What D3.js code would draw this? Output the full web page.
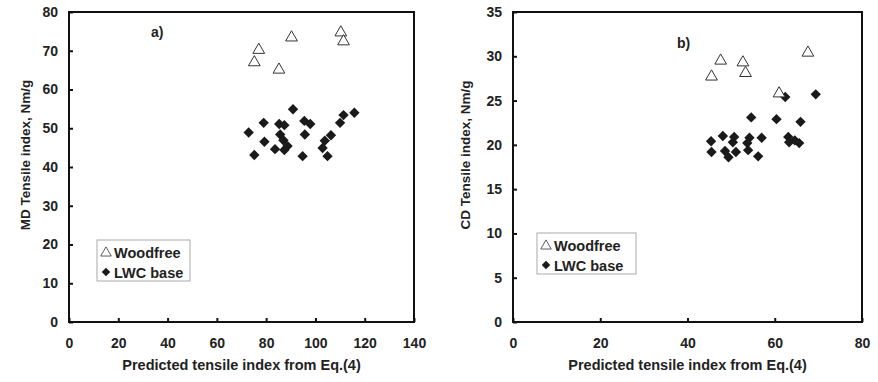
<!DOCTYPE html>
<html>
<head>
<meta charset="utf-8">
<script src="https://cdn.jsdelivr.net/npm/d3@7"></script>
<style>
  body { margin: 0; background: #fff; }
  svg { display: block; font-family: "Liberation Sans", Arial, sans-serif; font-weight: bold; }
</style>
</head>
<body>
<svg id="chart" width="878" height="382"></svg>
<script>
// ---- data ----
// a) MD tensile index vs predicted
const mdWoodfree = [[77.0, 70.2], [75.2, 67.0], [90.3, 73.4], [85.2, 65.1], [110.3, 74.7], [111.4, 72.4]];
const mdLwc = [
  [90.9, 54.9], [79.0, 51.4], [72.9, 48.9], [85.3, 51.1], [87.4, 50.8], [85.7, 48.4],
  [87.0, 46.9], [79.3, 46.5], [75.2, 43.1], [83.6, 44.6], [87.4, 44.4], [88.7, 45.4],
  [95.5, 51.9], [97.9, 51.1], [95.7, 48.4], [94.8, 42.8], [106.3, 48.2], [103.8, 46.8],
  [102.9, 44.9], [104.9, 42.8], [111.4, 53.4], [110.0, 51.4], [115.8, 54.0]
];
// b) CD tensile index vs predicted
const cdWoodfree = [[47.6, 29.5], [45.5, 27.7], [52.7, 29.3], [53.3, 28.1], [67.6, 30.4], [61.0, 25.8]];
const cdLwc = [
  [45.4, 20.4], [48.1, 21.0], [50.7, 20.9], [50.4, 20.3], [54.2, 20.8], [53.7, 20.2],
  [57.0, 20.8], [45.5, 19.2], [48.6, 19.3], [49.4, 18.6], [51.1, 19.2], [53.9, 19.4],
  [56.2, 18.7], [63.1, 20.9], [63.3, 20.3], [64.6, 20.5], [65.6, 20.2], [62.4, 25.4],
  [69.4, 25.7], [54.6, 23.1], [60.4, 22.9], [65.9, 22.6]
];
const mdXTicks = [0, 20, 40, 60, 80, 100, 120, 140];
const mdYTicks = [0, 10, 20, 30, 40, 50, 60, 70, 80];
const cdXTicks = [0, 20, 40, 60, 80];
const cdYTicks = [0, 5, 10, 15, 20, 25, 30, 35];
const legendLabels = ["Woodfree", "LWC base"];
const xTitle = "Predicted tensile index from Eq.(4)";

const svg = d3.select("#chart");

const triPath = d3.symbol().type(d3.symbolTriangle).size(60)();
const diaPath = d3.symbol().type(d3.symbolSquare).size(54)();

function panel(o) {
  const g = svg.append("g");
  const x = d3.scaleLinear().domain(o.xDomain).range([o.left, o.right]);
  const y = d3.scaleLinear().domain(o.yDomain).range([o.bottom, o.top]);

  // axes with inward ticks
  g.append("g")
    .attr("transform", `translate(0,${o.bottom})`)
    .call(d3.axisBottom(x).tickValues(o.xTicks).tickSizeInner(-4).tickSizeOuter(0).tickPadding(16))
    .call(a => a.select(".domain").remove());
  g.append("g")
    .attr("transform", `translate(${o.left},0)`)
    .call(d3.axisLeft(y).tickValues(o.yTicks).tickSizeInner(-4).tickSizeOuter(0).tickPadding(11))
    .call(a => a.select(".domain").remove());
  g.selectAll(".tick line").attr("stroke", "#111").attr("stroke-width", 2);
  g.selectAll(".tick text").attr("font-size", 14).attr("font-weight", "bold").attr("fill", "#222")
    .attr("font-family", "Liberation Sans, Arial, sans-serif");

  // frame
  g.append("rect")
    .attr("x", o.left).attr("y", o.top)
    .attr("width", o.right - o.left).attr("height", o.bottom - o.top)
    .attr("fill", "none").attr("stroke", "#111").attr("stroke-width", 2);

  // titles
  g.append("text")
    .attr("x", (o.left + o.right) / 2).attr("y", 370)
    .attr("text-anchor", "middle").attr("font-size", 14.5).attr("fill", "#222")
    .text(xTitle);
  g.append("text")
    .attr("transform", `translate(${o.yTitleX},${(o.top + o.bottom) / 2 - 12}) rotate(-90)`)
    .attr("text-anchor", "middle").attr("font-size", 13.5).attr("fill", "#222")
    .text(o.yTitle);

  // panel tag
  g.append("text")
    .attr("x", o.tag[0]).attr("y", o.tag[1])
    .attr("font-size", 14).attr("fill", "#222")
    .text(o.tagText);

  // points
  g.selectAll(".lwc").data(o.lwc).enter().append("path")
    .attr("d", diaPath)
    .attr("transform", d => `translate(${x(d[0])},${y(d[1])}) rotate(45)`)
    .attr("fill", "#1a1a1a");
  g.selectAll(".wf").data(o.woodfree).enter().append("path")
    .attr("d", triPath)
    .attr("transform", d => `translate(${x(d[0])},${y(d[1])})`)
    .attr("fill", "#fff").attr("stroke", "#333").attr("stroke-width", 1);

  // legend
  const lg = g.append("g").attr("transform", `translate(${o.legend[0]},${o.legend[1]})`);
  lg.append("rect").attr("width", o.legend[2]).attr("height", 41)
    .attr("fill", "#fff").attr("stroke", "#aaa").attr("stroke-width", 1);
  lg.append("path").attr("d", d3.symbol().type(d3.symbolTriangle).size(48)())
    .attr("transform", "translate(9,13)")
    .attr("fill", "#fff").attr("stroke", "#333").attr("stroke-width", 0.8);
  lg.append("path").attr("d", d3.symbol().type(d3.symbolSquare).size(36)())
    .attr("transform", "translate(9,32) rotate(45)")
    .attr("fill", "#1a1a1a");
  lg.selectAll(".lt").data(legendLabels).enter().append("text")
    .attr("x", 17).attr("y", (d, i) => 18 + i * 20)
    .attr("font-size", 14.5).attr("fill", "#222")
    .text(d => d);
}

panel({
  left: 69, right: 414, top: 12, bottom: 322,
  xDomain: [0, 140], yDomain: [0, 80], xTicks: mdXTicks, yTicks: mdYTicks,
  yTitle: "MD Tensile index, Nm/g", yTitleX: 30,
  tag: [151, 37], tagText: "a)",
  woodfree: mdWoodfree, lwc: mdLwc,
  legend: [97, 240, 93]
});
panel({
  left: 513, right: 862, top: 12, bottom: 322,
  xDomain: [0, 80], yDomain: [0, 35], xTicks: cdXTicks, yTicks: cdYTicks,
  yTitle: "CD Tensile index, Nm/g", yTitleX: 470,
  tag: [677, 48], tagText: "b)",
  woodfree: cdWoodfree, lwc: cdLwc,
  legend: [537, 233, 99]
});
</script>
</body>
</html>
